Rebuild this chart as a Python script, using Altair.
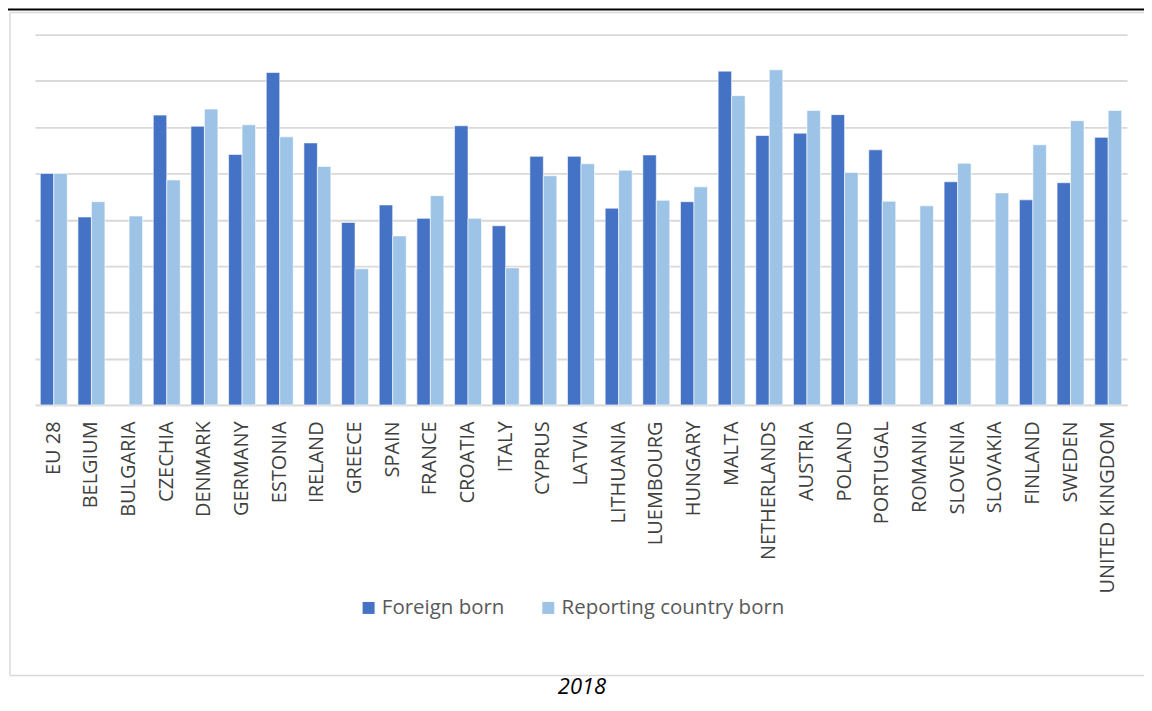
import altair as alt
import pandas as pd

countries = ["EU 28", "BELGIUM", "BULGARIA", "CZECHIA", "DENMARK", "GERMANY", "ESTONIA",
             "IRELAND", "GREECE", "SPAIN", "FRANCE", "CROATIA", "ITALY", "CYPRUS", "LATVIA",
             "LITHUANIA", "LUEMBOURG", "HUNGARY", "MALTA", "NETHERLANDS", "AUSTRIA", "POLAND",
             "PORTUGAL", "ROMANIA", "SLOVENIA", "SLOVAKIA", "FINLAND", "SWEDEN", "UNITED KINGDOM"]

foreign_born = [50.0, 40.6, None, 62.6, 60.2, 54.1, 71.8, 56.6, 39.4, 43.2, 40.3, 60.3, 38.7,
                53.7, 53.7, 42.5, 54.0, 43.9, 72.1, 58.2, 58.7, 62.7, 55.1, None, 48.2, None,
                44.3, 48.0, 57.8]

reporting_born = [50.0, 43.9, 40.8, 48.6, 63.9, 60.5, 57.9, 51.5, 29.4, 36.5, 45.2, 40.3, 29.6,
                  49.5, 52.1, 50.7, 44.2, 47.1, 66.8, 72.4, 63.6, 50.2, 44.0, 43.0, 52.2, 45.8,
                  56.2, 61.4, 63.6]

series_names = ["Foreign born", "Reporting country born"]
series_colors = ["#4472C4", "#9DC3E6"]
grid_values = [0, 10, 20, 30, 40, 50, 60, 70, 80]
caption_text = "2018"

rows = []
for c, f, r in zip(countries, foreign_born, reporting_born):
    if f is not None:
        rows.append({"country": c, "series": series_names[0], "value": f})
    if r is not None:
        rows.append({"country": c, "series": series_names[1], "value": r})
df = pd.DataFrame(rows)

one = alt.Data(values=[{"k": 1}])

frame_style = dict(color="#d9d9d9", strokeWidth=1.5)
frame_left = alt.Chart(one).mark_rule(**frame_style).encode(
    x=alt.value(-25), y=alt.value(-22), y2=alt.value(642)
)
frame_top = alt.Chart(one).mark_rule(**frame_style).encode(
    x=alt.value(-25), x2=alt.value(1200), y=alt.value(-22), y2=alt.value(-22)
)
frame_bottom = alt.Chart(one).mark_rule(**frame_style).encode(
    x=alt.value(-25), x2=alt.value(1200), y=alt.value(642), y2=alt.value(642)
)

topline = alt.Chart(one).mark_rule(color="black", strokeWidth=2).encode(
    x=alt.value(-30), x2=alt.value(1200), y=alt.value(-25), y2=alt.value(-25)
)

bars = alt.Chart(df).mark_bar(stroke="white", strokeWidth=0.6).encode(
    x=alt.X("country:N", sort=countries,
            scale=alt.Scale(paddingInner=0.284, paddingOuter=0.142),
            axis=alt.Axis(title=None, labelAngle=-90, labelAlign="right", labelBaseline="middle",
                          labelFont="Open Sans", labelFontSize=20, labelColor="#404040",
                          labelPadding=16, labelLimit=400, ticks=False, tickSize=0,
                          domain=True, domainColor="#d9d9d9", domainWidth=1.5, grid=False)),
    xOffset=alt.XOffset("series:N", sort=series_names, scale=alt.Scale(domain=series_names)),
    y=alt.Y("value:Q", scale=alt.Scale(domain=[0, 80], nice=False),
            axis=alt.Axis(title=None, values=grid_values, labels=False, ticks=False, domain=False,
                          grid=True, gridColor="#d9d9d9", gridWidth=1.8)),
    color=alt.Color("series:N", sort=series_names,
                    scale=alt.Scale(domain=series_names, range=series_colors),
                    legend=alt.Legend(title=None, orient="none", legendX=324, legendY=564,
                                      direction="horizontal", symbolType="square", symbolSize=144,
                                      symbolStrokeWidth=0, labelFont="Open Sans", labelFontSize=20.5,
                                      labelColor="#595959", labelOffset=3, columnPadding=33,
                                      labelLimit=400, padding=0)),
)

caption = alt.Chart(one).mark_text(font="Open Sans", fontSize=22, fontStyle="italic",
                                   color="#000000", align="center", baseline="alphabetic").encode(
    x=alt.value(548), y=alt.value(661), text=alt.value(caption_text)
)

chart = alt.layer(frame_left, frame_top, frame_bottom, topline, bars, caption).properties(
    width=1094, height=371,
    autosize=alt.AutoSizeParams(type="none"),
    padding={"left": 27, "top": 26, "right": 17, "bottom": 297},
    background="white",
).configure_view(stroke=None)

chart.save("out.html", embed_options={"renderer": "svg", "actions": False})
